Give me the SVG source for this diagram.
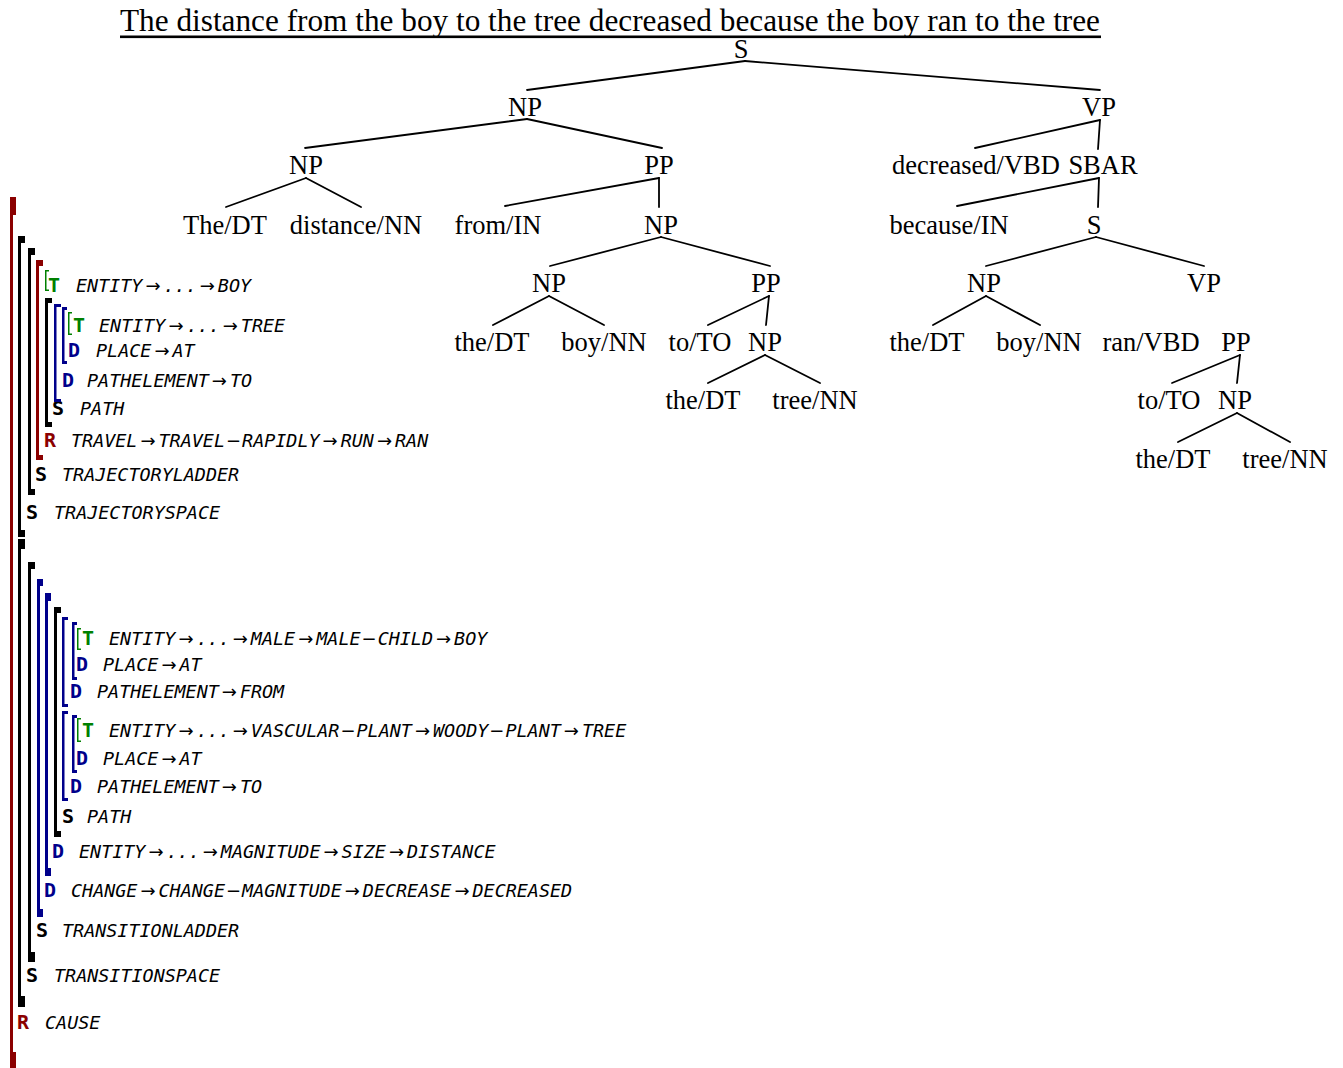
<svg xmlns="http://www.w3.org/2000/svg" width="1343" height="1068" viewBox="0 0 1343 1068">
  <defs>
    <style>
      .tree { font-family: "Liberation Serif", "Times New Roman", serif; font-size: 26.5px; fill: #000; text-anchor: middle; }
      .title { font-family: "Liberation Serif", "Times New Roman", serif; font-size: 31px; fill: #000; }
      .edge { stroke: #000; stroke-width: 1.8; fill: none; stroke-linecap: round; }
      .lbl { font-family: "DejaVu Sans Mono", "Liberation Mono", monospace; font-style: oblique; font-size: 18.4px; fill: #000; }
      .k { font-style: normal; font-weight: bold; font-size: 20px; }
      .ar { font-family: "DejaVu Sans", sans-serif; font-style: normal; font-size: 18px; }
      .red { fill: #8b0000; }
      .blk { fill: #000; }
      .blu { fill: #00008b; }
      .grn { fill: #008000; }
    </style>
  </defs>

  <!-- sentence heading -->
  <g id="sentence">
    <text class="title" x="120" y="31" textLength="980" lengthAdjust="spacingAndGlyphs">The distance from the boy to the tree decreased because the boy ran to the tree</text>
    <rect x="120" y="35.5" width="981" height="2.6" fill="#000"/>
  </g>

  <!-- parse tree connectors -->
  <g id="connectors">
    <line class="edge" x1="745" y1="61" x2="527" y2="90"/>
    <line class="edge" x1="745" y1="61" x2="1100" y2="90"/>
    <line class="edge" x1="527" y1="119" x2="305" y2="148"/>
    <line class="edge" x1="527" y1="119" x2="662" y2="148"/>
    <line class="edge" x1="306" y1="178" x2="226" y2="207"/>
    <line class="edge" x1="306" y1="178" x2="361" y2="207"/>
    <line class="edge" x1="659" y1="178" x2="505" y2="206"/>
    <line class="edge" x1="659" y1="178" x2="659" y2="207"/>
    <line class="edge" x1="661" y1="237" x2="550" y2="266"/>
    <line class="edge" x1="661" y1="237" x2="770" y2="266"/>
    <line class="edge" x1="549" y1="296" x2="493" y2="325"/>
    <line class="edge" x1="549" y1="296" x2="604" y2="325"/>
    <line class="edge" x1="769" y1="296" x2="708" y2="325"/>
    <line class="edge" x1="769" y1="296" x2="766" y2="325"/>
    <line class="edge" x1="765" y1="355" x2="708" y2="383"/>
    <line class="edge" x1="765" y1="355" x2="820" y2="383"/>
    <line class="edge" x1="1100" y1="120" x2="975" y2="148"/>
    <line class="edge" x1="1100" y1="120" x2="1098" y2="149"/>
    <line class="edge" x1="1099" y1="178" x2="957" y2="206"/>
    <line class="edge" x1="1099" y1="178" x2="1098" y2="207"/>
    <line class="edge" x1="1096" y1="237" x2="986" y2="266"/>
    <line class="edge" x1="1096" y1="237" x2="1204" y2="266"/>
    <line class="edge" x1="986" y1="296" x2="933" y2="325"/>
    <line class="edge" x1="986" y1="296" x2="1040" y2="325"/>
    <line class="edge" x1="1240" y1="355" x2="1172" y2="383"/>
    <line class="edge" x1="1240" y1="355" x2="1237" y2="383"/>
    <line class="edge" x1="1237" y1="413" x2="1178" y2="442"/>
    <line class="edge" x1="1237" y1="413" x2="1290" y2="442"/>
  </g>

  <!-- parse tree nodes -->
  <g id="tree-nodes">
    <g id="n-S"><text class="tree" x="741" y="57.5">S</text></g>
    <g id="n-NP1"><text class="tree" x="525" y="115.5">NP</text></g>
    <g id="n-VP1"><text class="tree" x="1099" y="115.5">VP</text></g>
    <g id="n-NP2"><text class="tree" x="306" y="173.5">NP</text></g>
    <g id="n-PP1"><text class="tree" x="659" y="173.5">PP</text></g>
    <g id="n-decreased"><text class="tree" x="976" y="173.5">decreased/VBD</text></g>
    <g id="n-SBAR"><text class="tree" x="1103" y="173.5">SBAR</text></g>
    <g id="n-The"><text class="tree" x="225" y="233.5">The/DT</text></g>
    <g id="n-distance"><text class="tree" x="356" y="233.5">distance/NN</text></g>
    <g id="n-from"><text class="tree" x="498" y="233.5">from/IN</text></g>
    <g id="n-NP3"><text class="tree" x="661" y="233.5">NP</text></g>
    <g id="n-because"><text class="tree" x="949" y="233.5">because/IN</text></g>
    <g id="n-S2"><text class="tree" x="1094" y="233.5">S</text></g>
    <g id="n-NP4"><text class="tree" x="549" y="291.5">NP</text></g>
    <g id="n-PP2"><text class="tree" x="766" y="291.5">PP</text></g>
    <g id="n-NP5"><text class="tree" x="984" y="291.5">NP</text></g>
    <g id="n-VP2"><text class="tree" x="1204" y="291.5">VP</text></g>
    <g id="n-the1"><text class="tree" x="492" y="350.5">the/DT</text></g>
    <g id="n-boy1"><text class="tree" x="604" y="350.5">boy/NN</text></g>
    <g id="n-to1"><text class="tree" x="700" y="350.5">to/TO</text></g>
    <g id="n-NP6"><text class="tree" x="765" y="350.5">NP</text></g>
    <g id="n-the2"><text class="tree" x="927" y="350.5">the/DT</text></g>
    <g id="n-boy2"><text class="tree" x="1039" y="350.5">boy/NN</text></g>
    <g id="n-ran"><text class="tree" x="1151" y="350.5">ran/VBD</text></g>
    <g id="n-PP3"><text class="tree" x="1236" y="350.5">PP</text></g>
    <g id="n-the3"><text class="tree" x="703" y="408.5">the/DT</text></g>
    <g id="n-tree1"><text class="tree" x="815" y="408.5">tree/NN</text></g>
    <g id="n-to2"><text class="tree" x="1169" y="408.5">to/TO</text></g>
    <g id="n-NP7"><text class="tree" x="1235" y="408.5">NP</text></g>
    <g id="n-the4"><text class="tree" x="1173" y="467.5">the/DT</text></g>
    <g id="n-tree2"><text class="tree" x="1285" y="467.5">tree/NN</text></g>
  </g>

  <!-- semantic frame brackets -->
  <g id="frames">
    <g id="f-cause">
      <path class="red" d="M10,197 H16 V215 H13 V1052 H16 V1070 H10 Z"/>
      <text class="lbl" y="1029"><tspan class="k red" x="17">R</tspan><tspan x="45">CAUSE</tspan></text>
    </g>

    <g id="f-trajectoryspace">
      <path class="blk" d="M18,236 H25 V243 H21 V530 H25 V537 H18 Z"/>
      <text class="lbl" y="519"><tspan class="k" x="26">S</tspan><tspan x="54">TRAJECTORYSPACE</tspan></text>
    </g>
    <g id="f-trajectoryladder">
      <path class="blk" d="M28,248 H35 V255 H31 V489 H35 V495 H28 Z"/>
      <text class="lbl" y="481"><tspan class="k" x="35">S</tspan><tspan x="62">TRAJECTORYLADDER</tspan></text>
    </g>
    <g id="f-travel">
      <path class="red" d="M36,260 H43 V266 H39 V455 H43 V460 H36 Z"/>
      <text class="lbl" y="447"><tspan class="k red" x="44">R</tspan><tspan x="71">TRAVEL</tspan><tspan class="ar" dx="3">→</tspan><tspan dx="3">TRAVEL</tspan><tspan class="ar" dx="1">−</tspan><tspan dx="1">RAPIDLY</tspan><tspan class="ar" dx="3">→</tspan><tspan dx="3">RUN</tspan><tspan class="ar" dx="3">→</tspan><tspan dx="3">RAN</tspan></text>
    </g>
    <g id="f-t-boy-1">
      <path class="grn" d="M45,270 H49 V271.5 H46.5 V289.5 H49 V291 H45 Z"/>
      <text class="lbl" y="292"><tspan class="k grn" x="48">T</tspan><tspan x="76">ENTITY</tspan><tspan class="ar" dx="3">→</tspan><tspan dx="3">...</tspan><tspan class="ar" dx="3">→</tspan><tspan dx="3">BOY</tspan></text>
    </g>
    <g id="f-path-1">
      <path class="blk" d="M45,298 H52 V303 H48 V422 H52 V427 H45 Z"/>
      <text class="lbl" y="415"><tspan class="k" x="52">S</tspan><tspan x="80">PATH</tspan></text>
    </g>
    <g id="f-pathelement-to-1">
      <path class="blu" d="M54,304 H61 V307 H56.5 V399 H61 V402 H54 Z"/>
      <text class="lbl" y="387"><tspan class="k blu" x="62">D</tspan><tspan x="87">PATHELEMENT</tspan><tspan class="ar" dx="3">→</tspan><tspan dx="3">TO</tspan></text>
    </g>
    <g id="f-place-at-1">
      <path class="blu" d="M62,307 H67 V310 H64.5 V361 H67 V364 H62 Z"/>
      <text class="lbl" y="357"><tspan class="k blu" x="68">D</tspan><tspan x="96">PLACE</tspan><tspan class="ar" dx="3">→</tspan><tspan dx="3">AT</tspan></text>
    </g>
    <g id="f-t-tree-1">
      <path class="grn" d="M68,312 H72 V313.5 H69.5 V333.5 H72 V335 H68 Z"/>
      <text class="lbl" y="331.5"><tspan class="k grn" x="73">T</tspan><tspan x="99">ENTITY</tspan><tspan class="ar" dx="3">→</tspan><tspan dx="3">...</tspan><tspan class="ar" dx="3">→</tspan><tspan dx="3">TREE</tspan></text>
    </g>

    <g id="f-transitionspace">
      <path class="blk" d="M18,539 H25 V549 H21 V996 H25 V1007 H18 Z"/>
      <text class="lbl" y="982"><tspan class="k" x="26">S</tspan><tspan x="54">TRANSITIONSPACE</tspan></text>
    </g>
    <g id="f-transitionladder">
      <path class="blk" d="M28,562 H35 V569 H31 V952 H35 V962 H28 Z"/>
      <text class="lbl" y="937"><tspan class="k" x="36">S</tspan><tspan x="62">TRANSITIONLADDER</tspan></text>
    </g>
    <g id="f-change">
      <path class="blu" d="M37,579 H43 V586 H40 V909 H43 V917 H37 Z"/>
      <text class="lbl" y="897"><tspan class="k blu" x="44">D</tspan><tspan x="71">CHANGE</tspan><tspan class="ar" dx="3">→</tspan><tspan dx="3">CHANGE</tspan><tspan class="ar" dx="1">−</tspan><tspan dx="1">MAGNITUDE</tspan><tspan class="ar" dx="3">→</tspan><tspan dx="3">DECREASE</tspan><tspan class="ar" dx="3">→</tspan><tspan dx="3">DECREASED</tspan></text>
    </g>
    <g id="f-distance">
      <path class="blu" d="M45,593 H51 V601 H48 V868 H51 V876 H45 Z"/>
      <text class="lbl" y="858"><tspan class="k blu" x="52">D</tspan><tspan x="79">ENTITY</tspan><tspan class="ar" dx="3">→</tspan><tspan dx="3">...</tspan><tspan class="ar" dx="3">→</tspan><tspan dx="3">MAGNITUDE</tspan><tspan class="ar" dx="3">→</tspan><tspan dx="3">SIZE</tspan><tspan class="ar" dx="3">→</tspan><tspan dx="3">DISTANCE</tspan></text>
    </g>
    <g id="f-path-2">
      <path class="blk" d="M54,607 H61 V613 H57 V831 H61 V837 H54 Z"/>
      <text class="lbl" y="823"><tspan class="k" x="62">S</tspan><tspan x="87">PATH</tspan></text>
    </g>
    <g id="f-pathelement-from">
      <path class="blu" d="M62,617 H68 V620 H64.5 V704 H68 V707 H62 Z"/>
      <text class="lbl" y="698"><tspan class="k blu" x="70">D</tspan><tspan x="97">PATHELEMENT</tspan><tspan class="ar" dx="3">→</tspan><tspan dx="3">FROM</tspan></text>
    </g>
    <g id="f-place-at-2">
      <path class="blu" d="M72,622 H77 V625 H74.5 V677 H77 V680 H72 Z"/>
      <text class="lbl" y="671"><tspan class="k blu" x="76">D</tspan><tspan x="103">PLACE</tspan><tspan class="ar" dx="3">→</tspan><tspan dx="3">AT</tspan></text>
    </g>
    <g id="f-t-boy-2">
      <path class="grn" d="M77,628 H81 V629.5 H78.5 V648.5 H81 V650 H77 Z"/>
      <text class="lbl" y="645"><tspan class="k grn" x="82">T</tspan><tspan x="109">ENTITY</tspan><tspan class="ar" dx="3">→</tspan><tspan dx="3">...</tspan><tspan class="ar" dx="3">→</tspan><tspan dx="3">MALE</tspan><tspan class="ar" dx="3">→</tspan><tspan dx="3">MALE</tspan><tspan class="ar" dx="1">−</tspan><tspan dx="1">CHILD</tspan><tspan class="ar" dx="3">→</tspan><tspan dx="3">BOY</tspan></text>
    </g>
    <g id="f-pathelement-to-2">
      <path class="blu" d="M62,711 H68 V714 H64.5 V798 H68 V801 H62 Z"/>
      <text class="lbl" y="793"><tspan class="k blu" x="70">D</tspan><tspan x="97">PATHELEMENT</tspan><tspan class="ar" dx="3">→</tspan><tspan dx="3">TO</tspan></text>
    </g>
    <g id="f-place-at-3">
      <path class="blu" d="M72,715 H77 V718 H74.5 V770 H77 V773 H72 Z"/>
      <text class="lbl" y="765"><tspan class="k blu" x="76">D</tspan><tspan x="103">PLACE</tspan><tspan class="ar" dx="3">→</tspan><tspan dx="3">AT</tspan></text>
    </g>
    <g id="f-t-tree-2">
      <path class="grn" d="M77,718 H81 V719.5 H78.5 V740.5 H81 V742 H77 Z"/>
      <text class="lbl" y="737"><tspan class="k grn" x="82">T</tspan><tspan x="109">ENTITY</tspan><tspan class="ar" dx="3">→</tspan><tspan dx="3">...</tspan><tspan class="ar" dx="3">→</tspan><tspan dx="3">VASCULAR</tspan><tspan class="ar" dx="1">−</tspan><tspan dx="1">PLANT</tspan><tspan class="ar" dx="3">→</tspan><tspan dx="3">WOODY</tspan><tspan class="ar" dx="1">−</tspan><tspan dx="1">PLANT</tspan><tspan class="ar" dx="3">→</tspan><tspan dx="3">TREE</tspan></text>
    </g>
  </g>
</svg>
